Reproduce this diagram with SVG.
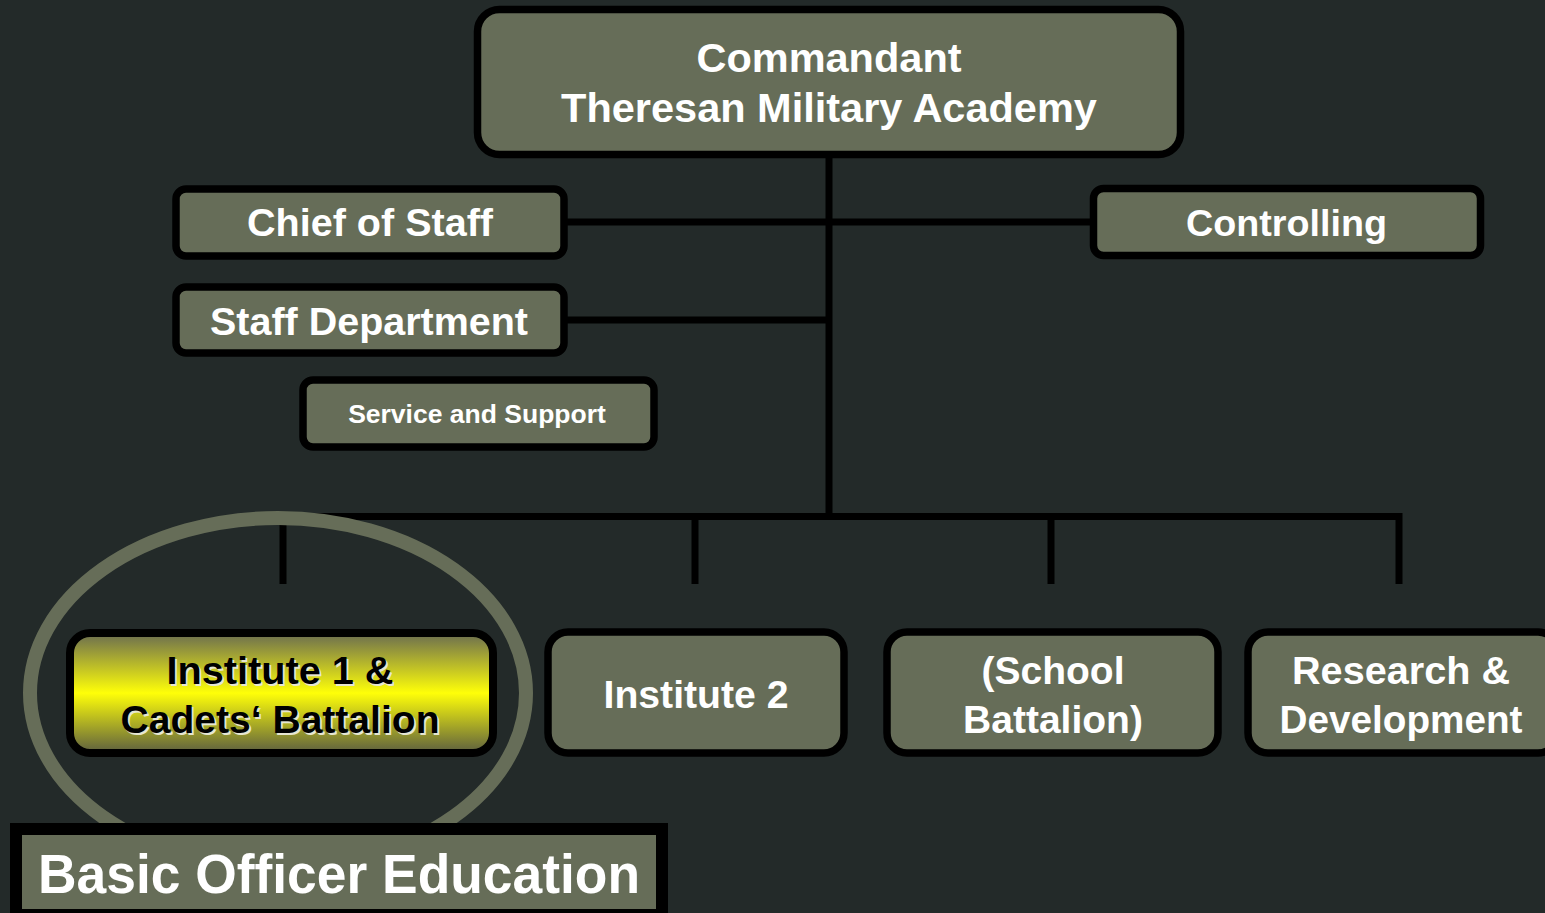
<svg xmlns="http://www.w3.org/2000/svg" width="1545" height="913" viewBox="0 0 1545 913">
<defs>
<linearGradient id="yel" x1="0" y1="0" x2="0" y2="1">
<stop offset="0" stop-color="#6a6c50"/>
<stop offset="0.5" stop-color="#ffff08"/>
<stop offset="1" stop-color="#5c5e40"/>
</linearGradient>
<style>
.box{fill:#666d58;stroke:#000;stroke-width:7.5}
.ln{stroke:#000;stroke-width:7;fill:none}
.t{font-family:"Liberation Sans",Arial,sans-serif;font-weight:bold;fill:#fff;text-anchor:middle}
.tk{font-family:"Liberation Sans",Arial,sans-serif;font-weight:bold;fill:#000;text-anchor:middle}
.ts{font-family:"Liberation Sans",Arial,sans-serif;font-weight:bold;fill:#e6e6d2;text-anchor:middle}
</style>
</defs>
<rect x="0" y="0" width="1545" height="913" fill="#232a29"/>
<g id="connectors">
<line class="ln" x1="829" y1="155" x2="829" y2="520"/>
<line class="ln" x1="564" y1="222" x2="1093" y2="222"/>
<line class="ln" x1="564" y1="320" x2="829" y2="320"/>
<polyline class="ln" points="283,584 283,516.5 1399,516.5 1399,584"/>
<line class="ln" x1="695" y1="516.5" x2="695" y2="584"/>
<line class="ln" x1="1051" y1="516.5" x2="1051" y2="584"/>
</g>
<ellipse id="highlight" cx="278" cy="693" rx="248" ry="175" fill="none" stroke="#666d58" stroke-width="14"/>
<g id="commandant">
<rect class="box" x="477.5" y="9.5" width="703" height="145" rx="22"/>
<text class="t" x="829" y="72" font-size="41.5">Commandant</text>
<text class="t" x="829" y="122" font-size="41.5">Theresan Military Academy</text>
</g>
<g id="chief-of-staff">
<rect class="box" x="176" y="189" width="388" height="67" rx="10"/>
<text class="t" x="370" y="236" font-size="38.5" textLength="246" lengthAdjust="spacingAndGlyphs">Chief of Staff</text>
</g>
<g id="staff-department">
<rect class="box" x="176" y="287" width="388" height="66" rx="10"/>
<text class="t" x="369" y="335" font-size="39" textLength="318" lengthAdjust="spacingAndGlyphs">Staff Department</text>
</g>
<g id="service-support">
<rect class="box" x="303" y="380" width="351" height="67" rx="10"/>
<text class="t" x="477" y="423" font-size="26.5">Service and Support</text>
</g>
<g id="controlling">
<rect class="box" x="1093.5" y="188.5" width="387" height="67" rx="10"/>
<text class="t" x="1286.5" y="236" font-size="37.7">Controlling</text>
</g>
<g id="institute1">
<rect x="70" y="633" width="423" height="120" rx="20" fill="url(#yel)" stroke="#000" stroke-width="8"/>
<text class="ts" x="282" y="686" font-size="39" textLength="227" lengthAdjust="spacingAndGlyphs">Institute 1 &amp;</text>
<text class="ts" x="282" y="735" font-size="39" textLength="319" lengthAdjust="spacingAndGlyphs">Cadets‘ Battalion</text>
<text class="tk" x="280" y="684" font-size="39" textLength="227" lengthAdjust="spacingAndGlyphs">Institute 1 &amp;</text>
<text class="tk" x="280" y="733" font-size="39" textLength="319" lengthAdjust="spacingAndGlyphs">Cadets‘ Battalion</text>
</g>
<g id="institute2">
<rect class="box" x="548" y="632" width="296" height="121" rx="20"/>
<text class="t" x="696" y="708" font-size="39" textLength="185" lengthAdjust="spacingAndGlyphs">Institute 2</text>
</g>
<g id="school-battalion">
<rect class="box" x="887" y="632" width="331" height="121" rx="20"/>
<text class="t" x="1053" y="684" font-size="39">(School</text>
<text class="t" x="1053" y="733" font-size="39">Battalion)</text>
</g>
<g id="research-development">
<rect class="box" x="1248" y="632" width="310" height="121" rx="20"/>
<text class="t" x="1401" y="684" font-size="39" textLength="218" lengthAdjust="spacingAndGlyphs">Research &amp;</text>
<text class="t" x="1401" y="733" font-size="39" textLength="243" lengthAdjust="spacingAndGlyphs">Development</text>
</g>
<g id="basic-officer-education">
<rect x="16" y="829" width="646" height="86" fill="#666d58" stroke="#000" stroke-width="12"/>
<text class="t" x="339" y="893" font-size="56" textLength="602" lengthAdjust="spacingAndGlyphs">Basic Officer Education</text>
</g>
</svg>
